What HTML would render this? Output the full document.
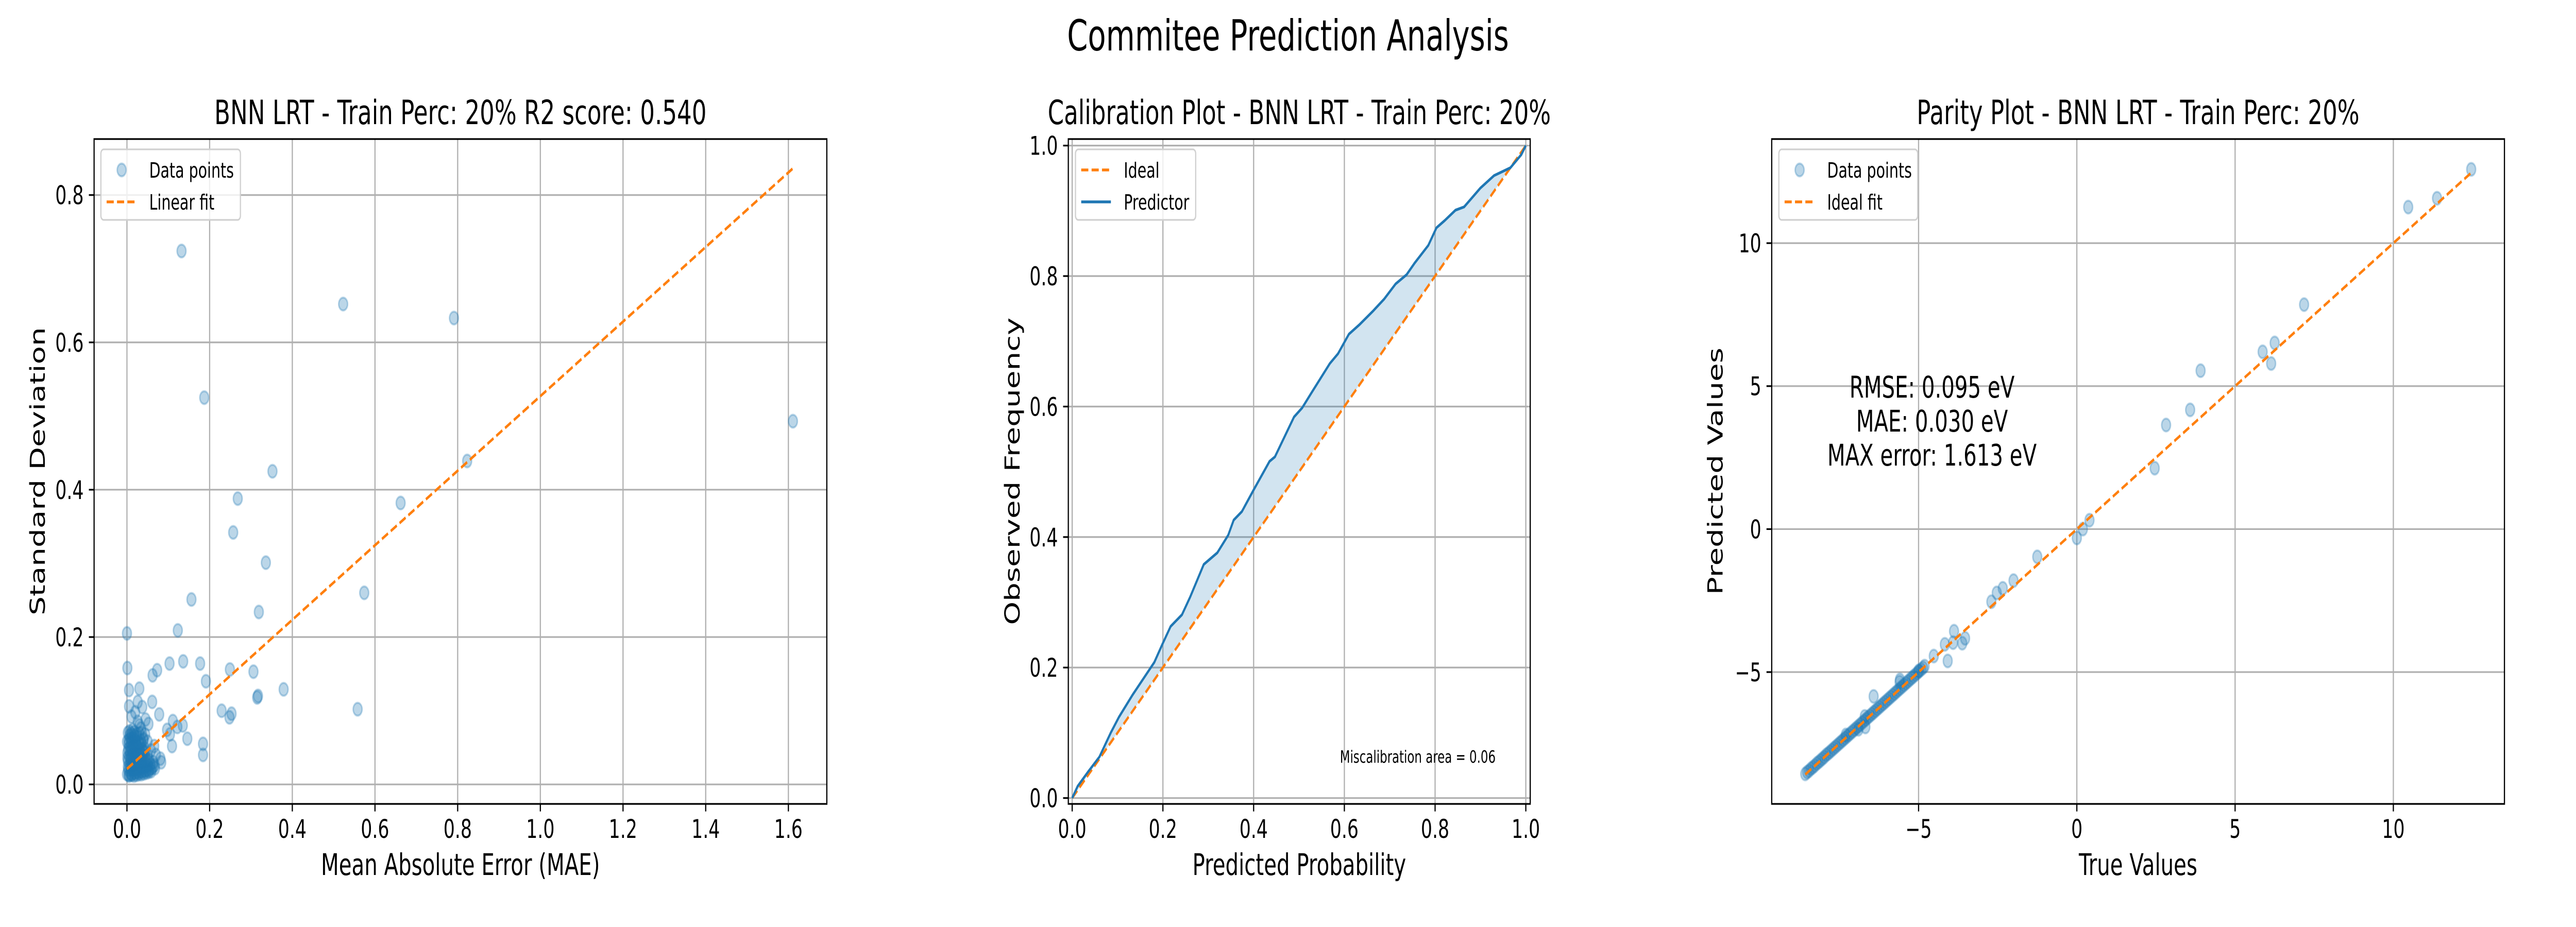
<!DOCTYPE html>
<html><head><meta charset="utf-8">
<style>
html,body{margin:0;padding:0;background:#fff;width:100%;height:100%;overflow:hidden;}
svg{display:block;width:100vw;height:100vh;font-family:"DejaVu Sans","Liberation Sans",sans-serif;}
</style></head>
<body>
<svg id="fig" viewBox="0 0 7200 1800" preserveAspectRatio="none" xmlns="http://www.w3.org/2000/svg" overflow="hidden">
<rect width="7200" height="1800" fill="#fff"/>
<text x="3600" y="98" font-size="83" text-anchor="middle">Commitee Prediction Analysis</text>
</svg>
<script>
// ---------- Panel 1 data: MAE vs std ----------
const maeOutX = [0.132,0.523,0.791,0.187,1.611,0.823,0.352,0.268,0.662,0.257,0.336,0.574,0.156,0.319,0.0,0.123,0.136,0.103,0.177,0.001,0.073,0.249,0.306,0.062,0.191,0.379,0.005,0.030,0.317,0.315,0.558,0.229,0.253,0.248,0.061,0.026,0.005,0.037,0.078,0.111,0.135,0.146,0.184,0.184,0.109,0.081,0.068,0.122,0.097,0.104,0.045,0.052,0.083,0.020,0.011];
const maeOutY = [0.724,0.652,0.633,0.525,0.493,0.439,0.425,0.388,0.382,0.342,0.301,0.260,0.251,0.234,0.205,0.209,0.167,0.164,0.164,0.158,0.155,0.156,0.153,0.148,0.140,0.129,0.128,0.130,0.120,0.118,0.102,0.100,0.096,0.091,0.112,0.112,0.106,0.105,0.095,0.086,0.080,0.062,0.055,0.040,0.052,0.035,0.022,0.078,0.074,0.068,0.088,0.082,0.030,0.098,0.092];
const maeClX = [0.000,0.004,0.008,0.012,0.016,0.020,0.024,0.028,0.032,0.036,0.040,0.044,0.048,0.052,0.056,0.060,0.002,0.006,0.010,0.014,0.018,0.022,0.026,0.030,0.034,0.038,0.042,0.046,0.050,0.054,0.001,0.005,0.009,0.013,0.017,0.021,0.025,0.029,0.033,0.037,0.041,0.045,0.003,0.007,0.011,0.015,0.019,0.023,0.027,0.031,0.035,0.000,0.004,0.008,0.012,0.016,0.020,0.024,0.002,0.006,0.010,0.014,0.018,0.064,0.070,0.058,0.066,0.040,0.050,0.044,0.030,0.034,0.026,
 0.003,0.009,0.015,0.021,0.027,0.033,0.039,0.045,0.051,0.057,0.002,0.008,0.014,0.020,0.026,0.032,0.038,0.044,0.050,0.001,0.007,0.013,0.019,0.025,0.031,0.037,0.043,0.004,0.010,0.016,0.022,0.028,0.034,0.040,0.006,0.012,0.018,0.024,0.030,0.036,0.005,0.011,0.017,0.023,0.029,0.035,0.041,0.047,0.053,0.059,0.063,0.067];
const maeClY = [0.014,0.013,0.015,0.014,0.016,0.015,0.017,0.016,0.018,0.017,0.019,0.018,0.020,0.019,0.021,0.022,0.024,0.026,0.025,0.027,0.026,0.028,0.027,0.029,0.028,0.030,0.031,0.030,0.032,0.033,0.036,0.038,0.037,0.039,0.040,0.038,0.041,0.040,0.042,0.041,0.043,0.044,0.048,0.050,0.049,0.052,0.051,0.053,0.050,0.054,0.055,0.058,0.060,0.062,0.061,0.063,0.060,0.064,0.070,0.072,0.069,0.074,0.071,0.030,0.040,0.046,0.052,0.062,0.058,0.068,0.080,0.076,0.085,
 0.020,0.021,0.020,0.022,0.021,0.023,0.024,0.025,0.026,0.027,0.032,0.033,0.034,0.035,0.036,0.035,0.037,0.038,0.039,0.043,0.044,0.045,0.046,0.045,0.047,0.048,0.049,0.055,0.056,0.057,0.058,0.057,0.059,0.060,0.066,0.067,0.066,0.068,0.069,0.070,0.012,0.013,0.012,0.013,0.014,0.014,0.015,0.016,0.017,0.018,0.024,0.026];
const fitSlope = 0.506, fitIntercept = 0.021, fitXmin = 0.0, fitXmax = 1.611;
const p1XTicks = [0,0.2,0.4,0.6,0.8,1.0,1.2,1.4,1.6];
const p1XTickLabels = ["0.0","0.2","0.4","0.6","0.8","1.0","1.2","1.4","1.6"];
const p1YTicks = [0,0.2,0.4,0.6,0.8];
const p1YTickLabels = ["0.0","0.2","0.4","0.6","0.8"];

// ---------- Panel 2 data: calibration ----------
const calX = [0,0.012,0.036,0.06,0.085,0.103,0.133,0.157,0.181,0.199,0.217,0.242,0.26,0.29,0.32,0.344,0.356,0.374,0.399,0.435,0.447,0.489,0.507,0.531,0.568,0.586,0.61,0.634,0.664,0.688,0.713,0.737,0.755,0.785,0.803,0.821,0.845,0.864,0.9,0.93,0.966,0.99,1.0];
const calY = [0,0.018,0.041,0.063,0.1,0.124,0.158,0.183,0.208,0.236,0.263,0.281,0.308,0.358,0.376,0.403,0.426,0.439,0.471,0.516,0.523,0.584,0.598,0.625,0.666,0.681,0.711,0.726,0.747,0.765,0.788,0.802,0.82,0.847,0.874,0.885,0.901,0.906,0.935,0.954,0.966,0.986,1.0];
const idealX = [0,1];
const p2Ticks = [0,0.2,0.4,0.6,0.8,1.0];
const p2TickLabels = ["0.0","0.2","0.4","0.6","0.8","1.0"];
const miscalText = "Miscalibration area = 0.06";

// ---------- Panel 3 data: parity ----------
const parTrue = [12.46,11.38,10.47,7.18,6.25,5.87,6.14,3.91,3.58,2.82,2.46,0.40,0.19,0.0,-1.25,-2.0,-2.34,-2.53,-2.7,-3.88,-3.53,-3.62,-3.91,-4.17,-4.08,-4.52,-4.81,-5.0,-5.59,-6.42,-6.68,
 -8.58,-8.52,-8.46,-8.40,-8.34,-8.28,-8.22,-8.16,-8.10,-8.04,-7.98,-7.92,-7.86,-7.80,-7.74,-7.68,-7.62,-7.56,-7.50,-7.44,-7.38,-7.32,-7.26,-7.20,-7.14,-7.08,-7.02,-6.96,-6.90,-6.84,-6.78,-6.72,-6.66,-6.60,-6.54,-6.48,-6.42,-6.36,-6.30,-6.24,-6.18,-6.12,-6.06,-6.00,-5.94,-5.88,-5.82,-5.76,-5.70,-5.64,-5.58,-5.52,-5.46,-5.40,-5.34,-5.28,-5.22,-5.16,-5.10,-5.04,-4.98,-4.92,-4.86,-6.7,-6.9,-7.3,-5.6];
const parPred = [12.58,11.57,11.26,7.85,6.51,6.2,5.79,5.54,4.17,3.64,2.13,0.31,0.0,-0.31,-0.97,-1.8,-2.07,-2.23,-2.54,-3.57,-3.82,-3.99,-3.97,-4.03,-4.61,-4.44,-4.79,-4.96,-5.27,-5.85,-6.92,
 -8.56,-8.50,-8.45,-8.38,-8.33,-8.27,-8.20,-8.15,-8.09,-8.03,-7.97,-7.90,-7.85,-7.79,-7.73,-7.67,-7.61,-7.55,-7.49,-7.43,-7.37,-7.31,-7.25,-7.19,-7.13,-7.07,-7.01,-6.95,-6.89,-6.83,-6.77,-6.71,-6.65,-6.59,-6.53,-6.47,-6.41,-6.35,-6.29,-6.23,-6.17,-6.11,-6.05,-5.99,-5.93,-5.87,-5.81,-5.75,-5.69,-5.63,-5.57,-5.51,-5.45,-5.39,-5.33,-5.27,-5.21,-5.15,-5.09,-5.03,-4.97,-4.91,-4.85,-6.55,-7.0,-7.2,-5.35];
const parIdeal = [-8.58,12.46];
const p3Ticks = [-5,0,5,10];
const p3TickLabels = ["\u22125","0","5","10"];
const statLines = ["RMSE: 0.095 eV","MAE: 0.030 eV","MAX error: 1.613 eV"];

// ---------- drawing ----------
const NS = "http://www.w3.org/2000/svg";
const fig = document.getElementById('fig');
function mk(tag, attrs, parent){
  const e = document.createElementNS(NS, tag);
  for (const k in attrs) e.setAttribute(k, attrs[k]);
  (parent||fig).appendChild(e);
  return e;
}
function scale(d0,d1,p0,p1){ return v => p0 + (v-d0)/(d1-d0)*(p1-p0); }
const BLUE="#1f77b4", ORANGE="#ff7f0e";

function makePanel(name, box, xr, yr, xt, xtl, yt, ytl){
  const g = mk('g', {});
  
  
  const sx = scale(xr[0],xr[1],box.l,box.r), sy = scale(yr[0],yr[1],box.b,box.t);
  const clipId = name+'-clip';
  const cp = mk('clipPath',{id:clipId},g);
  mk('rect',{x:box.l,y:box.t,width:box.r-box.l,height:box.b-box.t},cp);
  const grid = mk('g',{},g);
  
  
  xt.forEach((v,i)=>{
    const X=sx(v);
    const gl = mk('line',{x1:X,x2:X,y1:box.t,y2:box.b,stroke:"#b0b0b0","stroke-width":3.3},grid);
    
    
    const tk = mk('line',{x1:X,x2:X,y1:box.b,y2:box.b+14.6,stroke:"#000","stroke-width":3.3},g);
    
    
    const tl = mk('text',{x:X,y:box.b+66,"font-size":50,"text-anchor":"middle"},g);
    tl.textContent = xtl[i];
    
    
  });
  yt.forEach((v,i)=>{
    const Y=sy(v);
    const gl = mk('line',{x1:box.l,x2:box.r,y1:Y,y2:Y,stroke:"#b0b0b0","stroke-width":3.3},grid);
    
    
    const tk = mk('line',{x1:box.l-14.6,x2:box.l,y1:Y,y2:Y,stroke:"#000","stroke-width":3.3},g);
    
    
    const tl = mk('text',{x:box.l-29,y:Y+18,"font-size":50,"text-anchor":"end"},g);
    tl.textContent = ytl[i];
    
    
  });
  const plot = mk('g',{"clip-path":"url(#"+clipId+")"},g);
  
  
  return {g, plot, sx, sy, box};
}
function frame(P){
  const r = mk('rect',{x:P.box.l,y:P.box.t,width:P.box.r-P.box.l,height:P.box.b-P.box.t,fill:"none",stroke:"#000","stroke-width":3.3},P.g);
  
  
}
function txt(parent, name, x, y, size, s, anchor, rot){
  const t = mk('text',{x:x,y:y,"font-size":size,"text-anchor":anchor||"middle"},parent);
  if (rot) t.setAttribute('transform','rotate(-90 '+x+' '+y+')');
  t.textContent = s;
  
  
  return t;
}
function dots(P, xs, ys, name){
  xs.forEach((v,i)=>{
    const c = mk('circle',{cx:P.sx(v),cy:P.sy(ys[i]),r:12.5,fill:BLUE,"fill-opacity":0.3,stroke:BLUE,"stroke-opacity":0.3,"stroke-width":4},P.plot);
    
    
  });
}
function dashLine(P, x1,y1,x2,y2, name){
  const l = mk('line',{x1:P.sx(x1),y1:P.sy(y1),x2:P.sx(x2),y2:P.sy(y2),stroke:ORANGE,"stroke-width":5.5,"stroke-dasharray":"20 9"},P.plot);
  
  
}
function legend(parent, x, y, w, entries){
  const lg = mk('g',{},parent);
  
  
  const b = mk('rect',{x:x,y:y,width:w,height:137,rx:8,fill:"#fff","fill-opacity":0.8,stroke:"#d0d0d0","stroke-width":3.3},lg);
  
  
  entries.forEach((e,i)=>{
    const cy = y+40+i*62;
    if (e.type==='dot'){
      const c = mk('circle',{cx:x+58,cy:cy,r:12.5,fill:BLUE,"fill-opacity":0.3,stroke:BLUE,"stroke-opacity":0.3,"stroke-width":4},lg);
      
      
    } else {
      const l = mk('line',{x1:x+16,x2:x+99,y1:cy,y2:cy,stroke:e.color,"stroke-width":5.5,"stroke-dasharray":e.dash?"20 9":"none"},lg);
      
      
    }
    txt(lg,'legend-label',x+135,cy+15,41,e.label,'start');
  });
}

// Panel 1
const P1 = makePanel('mae-std-panel',{l:263,r:2311,t:270,b:1561},[-0.0795,1.693],[-0.0265,0.876],p1XTicks,p1XTickLabels,p1YTicks,p1YTickLabels);
dots(P1, maeClX, maeClY, 'data-point');
dots(P1, maeOutX, maeOutY, 'data-point');
dashLine(P1, fitXmin, fitIntercept+fitSlope*fitXmin, fitXmax, fitIntercept+fitSlope*fitXmax, 'linear-fit-line');
frame(P1);
txt(P1.g,'panel1-title',(263+2311)/2,241,65,"BNN LRT - Train Perc: 20% R2 score: 0.540");
txt(P1.g,'x-axis-title',(263+2311)/2,1699,58,"Mean Absolute Error (MAE)");
txt(P1.g,'y-axis-title',125,915,58,"Standard Deviation",'middle',true);
legend(P1.g,282,290,390,[{type:'dot',label:'Data points'},{type:'line',color:ORANGE,dash:true,label:'Linear fit'}]);

// Panel 2
const P2 = makePanel('calibration-panel',{l:2986,r:4277,t:270,b:1561},[-0.0085,1.0097],[-0.009,1.01],p2Ticks,p2TickLabels,p2Ticks,p2TickLabels);
let area = calX.map((v,i)=>P2.sx(v)+','+P2.sy(calY[i])).join(' ');
area += ' ' + P2.sx(idealX[1])+','+P2.sy(idealX[1])+' '+P2.sx(idealX[0])+','+P2.sy(idealX[0]);
const fillA = mk('polygon',{points:area,fill:BLUE,"fill-opacity":0.2,stroke:"none"},P2.plot);


dashLine(P2, idealX[0], idealX[0], idealX[1], idealX[1], 'ideal-line');
const pl = mk('polyline',{points:calX.map((v,i)=>P2.sx(v)+','+P2.sy(calY[i])).join(' '),fill:"none",stroke:BLUE,"stroke-width":5.5,"stroke-linejoin":"round"},P2.plot);


frame(P2);
txt(P2.g,'panel2-title',(2986+4277)/2,241,65,"Calibration Plot - BNN LRT - Train Perc: 20%");
txt(P2.g,'x-axis-title',(2986+4277)/2,1699,58,"Predicted Probability");
txt(P2.g,'y-axis-title',2850,915,58,"Observed Frequency",'middle',true);
txt(P2.g,'miscalibration-label',3745,1481,33,miscalText,'start');
legend(P2.g,3006,290,336,[{type:'line',color:ORANGE,dash:true,label:'Ideal'},{type:'line',color:BLUE,dash:false,label:'Predictor'}]);

// Panel 3
const P3 = makePanel('parity-panel',{l:4952,r:7000,t:270,b:1561},[-9.64,13.51],[-9.61,13.64],p3Ticks,p3TickLabels,p3Ticks,p3TickLabels);
dots(P3, parTrue, parPred, 'data-point');
dashLine(P3, parIdeal[0], parIdeal[0], parIdeal[1], parIdeal[1], 'ideal-fit-line');
frame(P3);
txt(P3.g,'panel3-title',(4952+7000)/2,241,65,"Parity Plot - BNN LRT - Train Perc: 20%");
txt(P3.g,'x-axis-title',(4952+7000)/2,1699,58,"True Values");
txt(P3.g,'y-axis-title',4815,915,58,"Predicted Values",'middle',true);
statLines.forEach((s,i)=>txt(P3.g,'error-stats-text',5400,772+i*66,58,s));
legend(P3.g,4972,290,388,[{type:'dot',label:'Data points'},{type:'line',color:ORANGE,dash:true,label:'Ideal fit'}]);
</script>
</body></html>
